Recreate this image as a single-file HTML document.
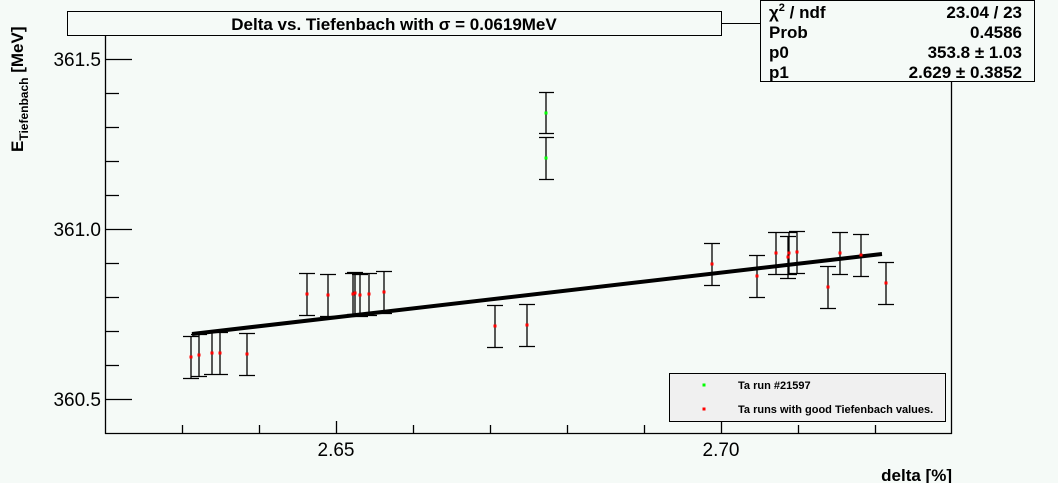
<!DOCTYPE html>
<html><head><meta charset="utf-8"><style>
html,body{margin:0;padding:0;background:#f5faf7;}
svg{display:block;font-family:"Liberation Sans",sans-serif;}
</style></head><body>
<svg width="1058" height="483" viewBox="0 0 1058 483" xmlns="http://www.w3.org/2000/svg">
<rect width="1058" height="483" fill="#f5faf7"/>
<g stroke="#000" stroke-width="1.3" fill="none">
<line x1="105.5" y1="35" x2="105.5" y2="434"/>
<line x1="105" y1="433.5" x2="952" y2="433.5"/>
<line x1="951.5" y1="81" x2="951.5" y2="434"/>
<path d="M105 59.5h27M105 93.5h14M105 127.5h14M105 161.5h14M105 195.5h14M105 229.5h27M105 263.5h14M105 297.5h14M105 331.5h14M105 365.5h14M105 399.5h27"/>
<path d="M182.5 433v-8M259.5 433v-8M336.5 433v-12M413.5 433v-8M490.5 433v-8M567.5 433v-8M644.5 433v-8M721.5 433v-12M798.5 433v-8M875.5 433v-8"/>
</g>
<g font-size="19" fill="#000">
<text x="101" y="66" text-anchor="end">361.5</text>
<text x="101" y="236" text-anchor="end">361.0</text>
<text x="101" y="406" text-anchor="end">360.5</text>
<text x="336" y="456" text-anchor="middle">2.65</text>
<text x="721" y="456" text-anchor="middle">2.70</text>
</g>
<text x="952" y="481" text-anchor="end" font-size="17" font-weight="bold">delta [%]</text>
<text transform="translate(23,152) rotate(-90)" font-size="17" font-weight="bold">E<tspan font-size="12" dy="5">Tiefenbach</tspan><tspan dy="-5"> [MeV]</tspan></text>
<line x1="192" y1="334" x2="882" y2="254" stroke="#000" stroke-width="4"/>
<g stroke="#000" stroke-width="1.3" fill="none">
<path d="M191 336v42M183 336.5h16M183 378.5h16
M199 334v42M191 334.5h16M191 376.5h16
M212 332v42M204 332.5h16M204 374.5h16
M220 332v42M212 332.5h16M212 374.5h16
M247 333v42M239 333.5h16M239 375.5h16
M307 273v42M299 273.5h16M299 315.5h16
M328 274v42M320 274.5h16M320 316.5h16
M353 273v42M345 273.5h16M345 315.5h16
M355 272v42M347 272.5h16M347 314.5h16
M360 274v42M352 274.5h16M352 316.5h16
M369 273v42M361 273.5h16M361 315.5h16
M384 271v42M376 271.5h16M376 313.5h16
M495 305v42M487 305.5h16M487 347.5h16
M527 304v42M519 304.5h16M519 346.5h16
M712 243v42M704 243.5h16M704 285.5h16
M757 255v42M749 255.5h16M749 297.5h16
M776 232v42M768 232.5h16M768 274.5h16
M788 236v42M780 236.5h16M780 278.5h16
M789 232v42M781 232.5h16M781 274.5h16
M797 231v42M789 231.5h16M789 273.5h16
M828 266v42M820 266.5h16M820 308.5h16
M840 232v42M832 232.5h16M832 274.5h16
M861 234v42M853 234.5h16M853 276.5h16
M886 262v42M878 262.5h16M878 304.5h16"/>
<path d="M546 92v42M539 92.5h15M539 133.5h15M546 137v42M539 137.5h15M539 179.5h15"/>
</g>
<g fill="#f00">
<rect x="189.5" y="355.5" width="3" height="3"/><rect x="197.5" y="353.5" width="3" height="3"/>
<rect x="210.5" y="351.5" width="3" height="3"/><rect x="218.5" y="351.5" width="3" height="3"/>
<rect x="245.5" y="352.5" width="3" height="3"/><rect x="305.5" y="292.5" width="3" height="3"/>
<rect x="326.5" y="293.5" width="3" height="3"/><rect x="351.5" y="292.5" width="3" height="3"/>
<rect x="353.5" y="291.5" width="3" height="3"/><rect x="358.5" y="293.5" width="3" height="3"/>
<rect x="367.5" y="292.5" width="3" height="3"/><rect x="382.5" y="290.5" width="3" height="3"/>
<rect x="493.5" y="324.5" width="3" height="3"/><rect x="525.5" y="323.5" width="3" height="3"/>
<rect x="710.5" y="262.5" width="3" height="3"/><rect x="755.5" y="274.5" width="3" height="3"/>
<rect x="774.5" y="251.5" width="3" height="3"/><rect x="786.5" y="255.5" width="3" height="3"/>
<rect x="787.5" y="251.5" width="3" height="3"/><rect x="795.5" y="250.5" width="3" height="3"/>
<rect x="826.5" y="285.5" width="3" height="3"/><rect x="838.5" y="251.5" width="3" height="3"/>
<rect x="859.5" y="253.5" width="3" height="3"/><rect x="884.5" y="281.5" width="3" height="3"/>
</g>
<rect x="544.5" y="111.5" width="3" height="3" fill="#0f0"/>
<rect x="544.5" y="156.5" width="3" height="3" fill="#0f0"/>
<rect x="67.5" y="11.5" width="654" height="24" fill="#f5faf7" stroke="#000" stroke-width="1"/>
<text x="394" y="30" text-anchor="middle" font-size="17" font-weight="bold">Delta vs. Tiefenbach with σ = 0.0619MeV</text>
<line x1="721" y1="23.5" x2="760" y2="23.5" stroke="#000"/>
<rect x="760.5" y="0.5" width="274" height="81" fill="#f5faf7" stroke="#000" stroke-width="1"/>
<g font-size="17" font-weight="bold">
<text x="769" y="18">χ<tspan font-size="11" dy="-7">2</tspan><tspan dy="7"> / ndf</tspan></text>
<text x="1022" y="18" text-anchor="end">23.04 / 23</text>
<text x="769" y="38">Prob</text>
<text x="1022" y="38" text-anchor="end">0.4586</text>
<text x="769" y="58">p0</text>
<text x="1022" y="58" text-anchor="end">353.8 ±  1.03</text>
<text x="769" y="78">p1</text>
<text x="1022" y="78" text-anchor="end">2.629 ± 0.3852</text>
</g>
<rect x="669.5" y="373.5" width="276" height="48" fill="#f0f0f0" stroke="#000" stroke-width="1"/>
<rect x="702.5" y="383.5" width="3" height="3" fill="#0f0"/>
<rect x="702.5" y="407.5" width="3" height="3" fill="#f00"/>
<g font-size="11" font-weight="bold"><text x="738" y="389">Ta run #21597</text>
<text x="738" y="413">Ta runs with good Tiefenbach values.</text></g>
</svg>
</body></html>
